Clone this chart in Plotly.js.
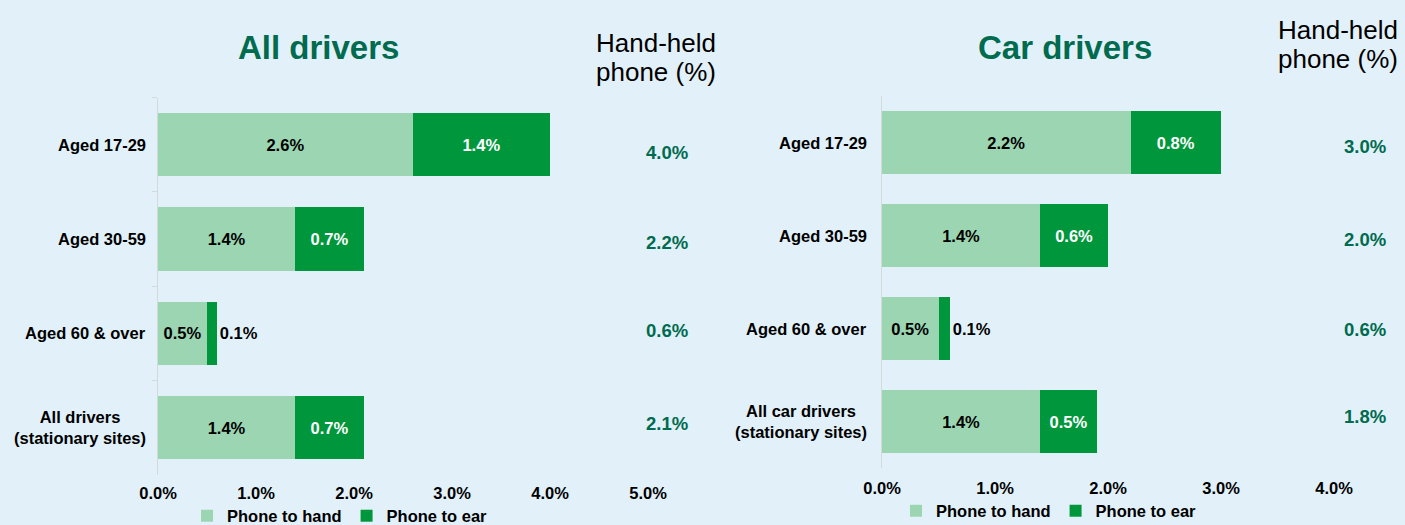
<!DOCTYPE html>
<html>
<head>
<meta charset="utf-8">
<script src="https://cdn.plot.ly/plotly-3.0.1.min.js"></script>
<style>
  html, body { margin: 0; padding: 0; background: #e2f1f9; }
  #chart { width: 1405px; height: 525px; }
</style>
</head>
<body>
<div id="chart"></div>
<script>
// ---- Data ----
const catsAll = ['Aged 17-29', 'Aged 30-59', 'Aged 60 & over', 'All drivers<br>(stationary sites)'];
const handAll = [2.6, 1.4, 0.5, 1.4];
const earAll = [1.4, 0.7, 0.1, 0.7];
const totalAll = [4.0, 2.2, 0.6, 2.1];

const catsCar = ['Aged 17-29', 'Aged 30-59', 'Aged 60 & over', 'All car drivers<br>(stationary sites)'];
const handCar = [2.2, 1.4, 0.5, 1.4];
const earCar = [0.8, 0.6, 0.1, 0.5];
const totalCar = [3.0, 2.0, 0.6, 1.8];

const seriesNames = ['Phone to hand', 'Phone to ear'];
const xTicksAll = [0, 1, 2, 3, 4, 5];
const xTicksCar = [0, 1, 2, 3, 4];
const headerAll = 'All drivers';
const headerCar = 'Car drivers';
const headerTotalLines = ['Hand-held', 'phone (%)'];

// ---- Styles ----
const FONT = 'Liberation Sans, Arial, Helvetica, sans-serif';
const LIGHT = '#9bd5b1';
const DARK = '#00973c';
const TEAL = '#006b4f';
const BG = '#e2f1f9';
const FS = 16.5;
// small vertical nudges of the total labels (px)
const totalShiftAll = [-7.5, -3.5, 2.5, 4.5];
const totalShiftCar = [-3.5, -3.5, -0.5, 5.5];

function W(px) { return px / 1405; }
function H(py) { return (525 - py) / 525; }
function pct(v) { return v.toFixed(1) + '%'; }
function posFor(ear) { return ear.map(v => v < 0.3 ? 'outside' : 'inside'); }

function segTraces(cats, hand, ear, xa, ya, lg) {
  return [
    {
      type: 'bar', orientation: 'h', name: seriesNames[0], y: cats, x: hand,
      xaxis: xa, yaxis: ya, legend: lg,
      marker: { color: LIGHT },
      texttemplate: '%{x:.1f}%', textposition: 'inside', insidetextanchor: 'middle',
      textfont: { family: FONT, size: FS, color: '#000', weight: 'bold' },
      constraintext: 'none',
      hoverinfo: 'skip', cliponaxis: false
    },
    {
      type: 'bar', orientation: 'h', name: seriesNames[1], y: cats, x: ear,
      xaxis: xa, yaxis: ya, legend: lg,
      marker: { color: DARK },
      texttemplate: '%{x:.1f}%', textposition: posFor(ear), insidetextanchor: 'middle',
      insidetextfont: { family: FONT, size: FS, color: '#fff', weight: 'bold' },
      outsidetextfont: { family: FONT, size: FS, color: '#000', weight: 'bold' },
      constraintext: 'none',
      hoverinfo: 'skip', cliponaxis: false
    }
  ];
}

const traces = [].concat(
  segTraces(catsAll, handAll, earAll, 'x', 'y', 'legend'),
  segTraces(catsCar, handCar, earCar, 'x2', 'y2', 'legend2')
);

const annotations = [];
function addText(x, y, text, font, extra) {
  annotations.push(Object.assign({ xref: 'paper', yref: 'paper', x: x, y: y, text: text, showarrow: false,
    xanchor: 'center', yanchor: 'middle', font: font }, extra || {}));
}
// Headers
addText(W(318), H(47), headerAll, { family: FONT, size: 33, color: TEAL, weight: 'bold' });
addText(W(1065), H(47), headerCar, { family: FONT, size: 33, color: TEAL, weight: 'bold' });
const hdrFont = { family: FONT, size: 26, color: '#000' };
addText(W(656), H(43), headerTotalLines[0], hdrFont);
addText(W(656), H(72), headerTotalLines[1], hdrFont);
addText(W(1338), H(30), headerTotalLines[0], hdrFont);
addText(W(1338), H(59), headerTotalLines[1], hdrFont);

const catFont = { family: FONT, size: FS, color: '#000', weight: 'bold' };
const totFont = { family: FONT, size: 18.5, color: TEAL, weight: 'bold' };
catsAll.forEach((c, i) => {
  annotations.push({ xref: 'paper', yref: 'y', x: W(148), y: c, text: c, showarrow: false,
    xanchor: 'right', yanchor: 'middle', align: 'center', font: catFont });
  annotations.push({ xref: 'paper', yref: 'y', x: W(667), y: c, yshift: totalShiftAll[i], text: pct(totalAll[i]),
    showarrow: false, xanchor: 'center', yanchor: 'middle', font: totFont });
});
catsCar.forEach((c, i) => {
  annotations.push({ xref: 'paper', yref: 'y2', x: W(869), y: c, text: c, showarrow: false,
    xanchor: 'right', yanchor: 'middle', align: 'center', font: catFont });
  annotations.push({ xref: 'paper', yref: 'y2', x: W(1365), y: c, yshift: totalShiftCar[i], text: pct(totalCar[i]),
    showarrow: false, xanchor: 'center', yanchor: 'middle', font: totFont });
});

const xBase = {
  showgrid: false, zeroline: false, showline: false, ticks: '',
  tickmode: 'array',
  tickfont: { family: FONT, size: FS, color: '#000', weight: 'bold' },
  fixedrange: true
};

const legBase = {
  orientation: 'h', xanchor: 'center', yanchor: 'middle',
  bgcolor: 'rgba(0,0,0,0)', font: { family: FONT, size: FS, color: '#000', weight: 'bold' },
  itemwidth: 30, traceorder: 'normal', tracegroupgap: 0
};

const layout = {
  width: 1405, height: 525,
  margin: { l: 0, r: 0, t: 0, b: 0, autoexpand: false },
  paper_bgcolor: BG, plot_bgcolor: BG,
  barmode: 'stack', bargap: 0.33,
  showlegend: true,
  font: { family: FONT },
  xaxis: Object.assign({}, xBase, { domain: [W(158), W(648)], range: [0, 5],
    tickvals: xTicksAll, ticktext: xTicksAll.map(pct), anchor: 'y', ticklabelstandoff: 6 }),
  yaxis: {
    domain: [H(475), H(97.5)], type: 'category', categoryarray: catsAll, autorange: 'reversed',
    showticklabels: false, showgrid: false, zeroline: false,
    showline: true, linecolor: '#d4d9dc', linewidth: 1,
    ticks: 'outside', tickson: 'boundaries', ticklen: 5, tickcolor: '#d4d9dc', anchor: 'x', fixedrange: true
  },
  xaxis2: Object.assign({}, xBase, { domain: [W(882), W(1334)], range: [0, 4],
    tickvals: xTicksCar, ticktext: xTicksCar.map(pct), anchor: 'y2', ticklabelstandoff: 8 }),
  yaxis2: {
    domain: [H(468), H(96)], type: 'category', categoryarray: catsCar, autorange: 'reversed',
    showticklabels: false, showgrid: false, zeroline: false,
    showline: true, linecolor: '#d4d9dc', linewidth: 1,
    ticks: '', anchor: 'x2', fixedrange: true
  },
  legend: Object.assign({}, legBase, { x: W(340), y: H(516) }),
  legend2: Object.assign({}, legBase, { x: W(1049), y: H(511) }),
  annotations: annotations
};

Plotly.newPlot('chart', traces, layout, { displayModeBar: false, staticPlot: true });
</script>
</body>
</html>
